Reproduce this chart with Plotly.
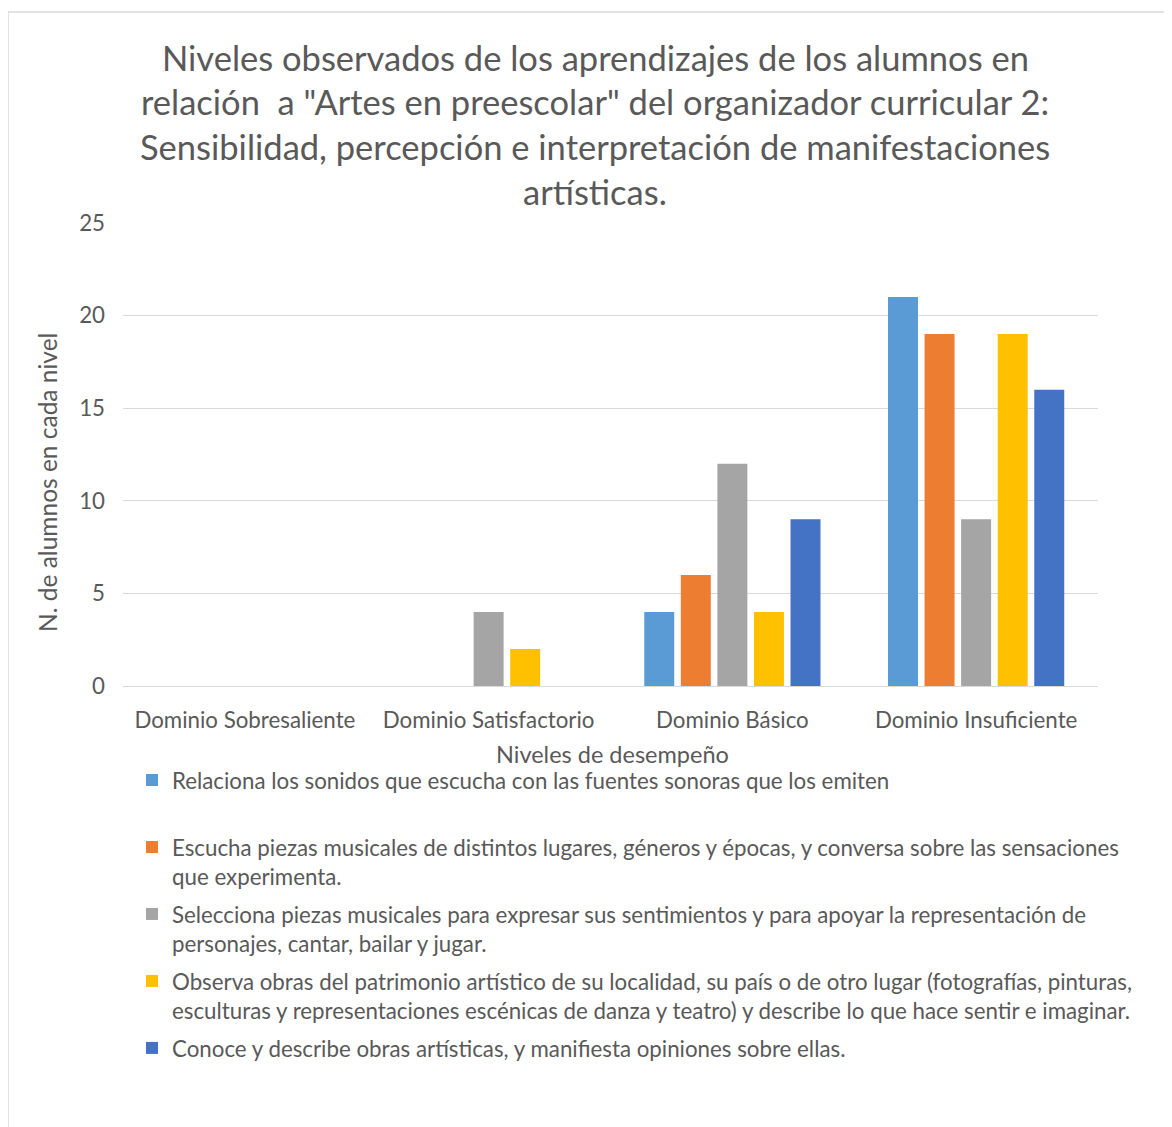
import plotly.graph_objects as go

categories = ["Dominio Sobresaliente", "Dominio Satisfactorio", "Dominio Básico", "Dominio Insuficiente"]
series_names = [
    "Relaciona los sonidos que escucha con las fuentes sonoras que los emiten<br> ",
    "Escucha piezas musicales de distintos lugares, géneros y épocas, y conversa sobre las sensaciones<br>que experimenta.",
    "Selecciona piezas musicales para expresar sus sentimientos y para apoyar la representación de<br>personajes, cantar, bailar y jugar.",
    "Observa obras del patrimonio artístico de su localidad, su país o de otro lugar (fotografías, pinturas,<br>esculturas y representaciones escénicas de danza y teatro) y describe lo que hace sentir e imaginar.",
    "Conoce y describe obras artísticas, y manifiesta opiniones sobre ellas.",
]
s1 = [0, 0, 4, 21]
s2 = [0, 0, 6, 19]
s3 = [0, 4, 12, 9]
s4 = [0, 2, 4, 19]
s5 = [0, 0, 9, 16]
series_values = [s1, s2, s3, s4, s5]
colors = ["#5B9BD5", "#ED7D31", "#A5A5A5", "#FFC000", "#4472C4"]
title_lines = [
    "Niveles observados de los aprendizajes de los alumnos en",
    "relación  a \"Artes en preescolar\" del organizador curricular 2:",
    "Sensibilidad, percepción e interpretación de manifestaciones",
    "artísticas.",
]
y_title = "N. de alumnos en cada nivel"
x_title = "Niveles de desempeño"

FONT = "Lato"
TXT = "#595959"
OFF = 8  # page body margin
W, H = 1172 - OFF, 1127 - OFF
# plot area in page pixels: x 123..1098, y 223..686
PL, PR, PT, PB = 123, 1098, 223, 686
L, T = PL - OFF, PT - OFF
R = W - (PR - OFF)
B = H - (PB - OFF)
PW, PH = PR - PL, PB - PT


def px_x(px):
    return (px - PL) / PW


def px_y(py):
    return (PB - py) / PH


fig = go.Figure()
for i, (name, vals, col) in enumerate(zip(series_names, series_values, colors)):
    fig.add_trace(go.Bar(x=categories, y=vals, name=name, marker_color=col,
                         marker_line_width=0, legendgroup=f"g{i}"))

annotations = []
title_y = [57, 102, 147, 192]
for line, yy in zip(title_lines, title_y):
    annotations.append(dict(text=line, x=px_x(595), y=px_y(yy), xref="paper", yref="paper",
                            xanchor="center", yanchor="middle", showarrow=False,
                            font=dict(family=FONT, size=34.5, color=TXT)))
annotations.append(dict(text=y_title, x=px_x(47), y=px_y(483), xref="paper", yref="paper",
                        xanchor="center", yanchor="middle", showarrow=False, textangle=-90,
                        font=dict(family=FONT, size=24.5, color=TXT)))
annotations.append(dict(text=x_title, x=px_x(612), y=px_y(754), xref="paper", yref="paper",
                        xanchor="center", yanchor="middle", showarrow=False,
                        font=dict(family=FONT, size=23.5, color=TXT)))

fig.update_layout(
    width=W, height=H,
    margin=dict(l=L, r=R, t=T, b=B),
    paper_bgcolor="white", plot_bgcolor="white",
    font=dict(family=FONT, color=TXT),
    barmode="group", bargap=0.25, bargroupgap=0.18,
    annotations=annotations,
    showlegend=True,
    legend=dict(x=px_x(132), y=px_y(759), xanchor="left", yanchor="top",
                orientation="v", traceorder="grouped", tracegroupgap=6,
                valign="top", font=dict(family=FONT, size=22.3, color=TXT),
                bgcolor="rgba(0,0,0,0)"),
    shapes=[dict(type="rect", xref="paper", yref="paper",
                 x0=px_x(8), x1=px_x(1200), y0=px_y(12), y1=px_y(1160),
                 line=dict(color="#D9D9D9", width=1.5), fillcolor="rgba(0,0,0,0)", layer="below")],
)
fig.update_xaxes(type="category", showgrid=False, showline=True, linecolor="#D9D9D9", linewidth=1,
                 ticks="", tickfont=dict(family=FONT, size=22.3, color=TXT), ticklabelstandoff=14)
fig.update_yaxes(range=[0, 25], dtick=5, showgrid=True, gridcolor="#D9D9D9", gridwidth=1,
                 zeroline=False, showline=False, ticks="",
                 tickfont=dict(family=FONT, size=22.3, color=TXT), ticklabelstandoff=17)

fig.write_html("out.html")
